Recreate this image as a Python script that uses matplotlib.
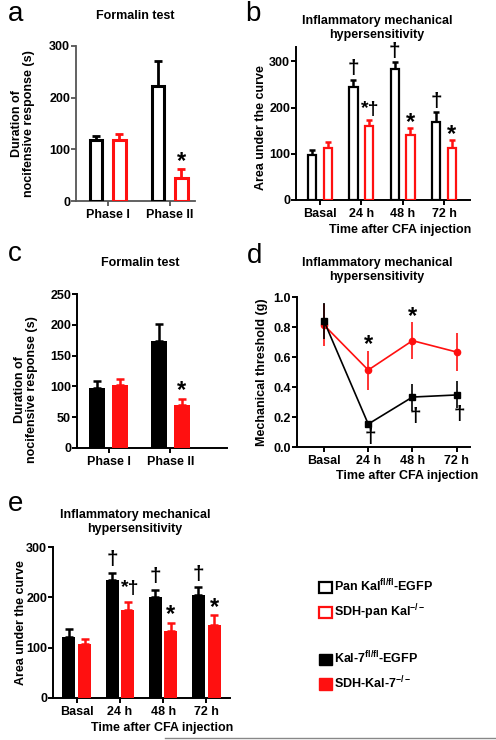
import numpy as np
import matplotlib
matplotlib.use("Agg")
import matplotlib.pyplot as plt
from matplotlib.lines import Line2D
from matplotlib.patches import Patch

plt.rcParams['font.family'] = ['Liberation Sans', 'DejaVu Sans']
plt.rcParams['font.weight'] = 'bold'
plt.rcParams['mathtext.fontset'] = 'custom'
plt.rcParams['mathtext.rm'] = 'Liberation Sans:bold'
plt.rcParams['mathtext.it'] = 'Liberation Sans:bold'
plt.rcParams['mathtext.bf'] = 'Liberation Sans:bold'

# ---------------- data ----------------
phase_groups = ['Phase I', 'Phase II']
time_groups = ['Basal', '24 h', '48 h', '72 h']

# a: pan-Kalirin formalin test (hollow bars)
a_ctrl = [118, 223]
a_ctrl_err = [7, 48]
a_ko = [118, 45]
a_ko_err = [12, 16]

# b: pan-Kalirin CFA, area under the curve (hollow bars)
b_ctrl = [98, 245, 283, 170]
b_ctrl_err = [10, 15, 15, 20]
b_ko = [112, 160, 140, 112]
b_ko_err = [14, 13, 15, 17]

# c: Kal-7 formalin test (filled bars)
c_ctrl = [98, 173]
c_ctrl_err = [10, 28]
c_ko = [103, 69]
c_ko_err = [9, 10]

# d: Kal-7 mechanical threshold time course
d_ctrl = [0.84, 0.153, 0.333, 0.347]
d_ctrl_err = [0.12, 0.02, 0.09, 0.09]
d_ko = [0.813, 0.513, 0.709, 0.633]
d_ko_err = [0.14, 0.13, 0.125, 0.125]

# e: Kal-7 CFA, area under the curve (filled bars)
e_ctrl = [122, 234, 201, 205]
e_ctrl_err = [16, 14, 14, 15]
e_ko = [107, 174, 134, 146]
e_ko_err = [10, 17, 15, 18]

legend_hollow = ['Pan Kal$^{\\mathrm{fl/fl}}$-EGFP', 'SDH-pan Kal$^{-/-}$']
legend_filled = ['Kal-7$^{\\mathrm{fl/fl}}$-EGFP', 'SDH-Kal-7$^{-/-}$']

RED = '#ff1010'
FS = 9
DAG = 15
AST = 17
W, H = 496, 740
fig = plt.figure(figsize=(W / 100, H / 100), dpi=100)


def add_ax(l, r, t, b):
    return fig.add_axes([l / W, 1 - b / H, (r - l) / W, (b - t) / H])


def style(ax, lw=1.4, color='black'):
    for s in ['top', 'right']:
        ax.spines[s].set_visible(False)
    for s in ['left', 'bottom']:
        ax.spines[s].set_linewidth(lw)
        ax.spines[s].set_color(color)
    ax.tick_params(axis='both', width=lw, length=3.5, labelsize=FS, color=color)
    ax.tick_params(axis='y', pad=0.8)
    ax.tick_params(axis='x', pad=2)
    for lab in ax.get_xticklabels() + ax.get_yticklabels():
        lab.set_fontweight('bold')


def ftext(x, y, s, **kw):
    fig.text(x / W, 1 - y / H, s, **kw)


def bar_panel(ax, groups, ctrl, ctrl_err, ko, ko_err, hollow, width, offset,
              lw, capsize, elw):
    x = np.arange(len(groups))
    if hollow:
        ax.bar(x - offset, ctrl, width, facecolor='white', edgecolor='black',
               linewidth=lw, zorder=3)
        ax.bar(x + offset, ko, width, facecolor='white', edgecolor=RED,
               linewidth=lw, zorder=3)
    else:
        ax.bar(x - offset, ctrl, width, color='black', zorder=3)
        ax.bar(x + offset, ko, width, color=RED, zorder=3)
    z = np.zeros(len(groups))
    ax.errorbar(x - offset, ctrl, yerr=[z, ctrl_err], fmt='none', ecolor='black',
                elinewidth=elw, capsize=capsize, capthick=elw, zorder=2)
    ax.errorbar(x + offset, ko, yerr=[z, ko_err], fmt='none', ecolor=RED,
                elinewidth=elw, capsize=capsize, capthick=elw, zorder=2)
    ax.set_xticks(x)
    ax.set_xticklabels(groups)
    return x


def mark(ax, x, y, s, dy, size=DAG, dx=0):
    ax.annotate(s, (x, y), xytext=(dx, dy), textcoords='offset points',
                ha='center', va='center', fontsize=size, fontweight='bold')


# ---------------- panel a ----------------
ax = add_ax(76, 195, 46, 201)
x = bar_panel(ax, phase_groups, a_ctrl, a_ctrl_err, a_ko, a_ko_err, True,
              0.2, 0.19, 2.2, 2.8, 2.0)
ax.set_xlim(-0.51, 1.41)
ax.set_ylim(0, 300)
ax.set_yticks([0, 100, 200, 300])
style(ax, 1.3, '#555555')
mark(ax, x[1] + 0.19, a_ko[1] + a_ko_err[1], '*', 6, AST)
ftext(135, 16, 'Formalin test', ha='center', va='center', fontsize=FS)
ftext(23, 124, 'Duration of\nnocifensive response (s)', ha='center', va='center',
      rotation=90, fontsize=FS, linespacing=1.1)
ftext(8, 14, 'a', ha='left', va='center', fontsize=20, fontweight='normal')

# ---------------- panel b ----------------
ax = add_ax(296, 470, 46.7, 200)
x = bar_panel(ax, time_groups, b_ctrl, b_ctrl_err, b_ko, b_ko_err, True,
              0.2, 0.19, 1.6, 2.4, 1.8)
ax.set_xlim(-0.58, 3.63)
ax.set_ylim(0, 332)
ax.set_yticks([0, 100, 200, 300])
style(ax)
for i in [1, 2, 3]:
    mark(ax, x[i] - 0.19, b_ctrl[i] + b_ctrl_err[i], '\u2020', 8)
mark(ax, x[1] + 0.19, b_ko[1] + b_ko_err[1], '*\u2020', 8, 14, dx=1)
for i in [2, 3]:
    mark(ax, x[i] + 0.19, b_ko[i] + b_ko_err[i], '*', 4, AST)
ftext(377, 28, 'Inflammatory mechanical\nhypersensitivity', ha='center',
      va='center', fontsize=FS, linespacing=1.15)
ax.set_xlabel('Time after CFA injection', fontsize=FS, fontweight='bold')
ax.xaxis.set_label_coords((400 - 296) / (470 - 296), -0.155)
ftext(261, 128, 'Area under the curve', ha='center', va='center', rotation=90,
      fontsize=FS)
ftext(245, 14, 'b', ha='left', va='center', fontsize=20, fontweight='normal')

# ---------------- panel c ----------------
ax = add_ax(77, 227, 294, 448)
x = bar_panel(ax, phase_groups, c_ctrl, c_ctrl_err, c_ko, c_ko_err, False,
              0.26, 0.187, 0, 3.0, 1.8)
ax.set_xlim(-0.52, 1.92)
ax.set_ylim(0, 250)
ax.set_yticks([0, 50, 100, 150, 200, 250])
style(ax)
mark(ax, x[1] + 0.187, c_ko[1] + c_ko_err[1], '*', 6, AST)
ftext(140, 263, 'Formalin test', ha='center', va='center', fontsize=FS)
ftext(26, 390, 'Duration of\nnocifensive response (s)', ha='center',
      va='center', rotation=90, fontsize=FS, linespacing=1.1)
ftext(8, 254, 'c', ha='left', va='center', fontsize=20, fontweight='normal')

# ---------------- panel d ----------------
ax = add_ax(297, 470, 297, 447)
xd = np.arange(len(time_groups))
ax.errorbar(xd, d_ko, yerr=d_ko_err, color=RED, marker='o', markersize=4.5,
            linewidth=1.2, elinewidth=1.2, capsize=0, zorder=3)
ax.errorbar(xd, d_ctrl, yerr=d_ctrl_err, color='black', marker='s',
            markersize=4.5, linewidth=1.2, elinewidth=1.2, capsize=0, zorder=4)
ax.set_xticks(xd)
ax.set_xticklabels(time_groups)
ax.set_xlim(-0.61, 3.3)
ax.set_ylim(0, 1.0)
ax.set_yticks(np.arange(0, 1.01, 0.2))
ax.yaxis.set_major_formatter(matplotlib.ticker.FormatStrFormatter('%.1f'))
style(ax)
for i in [1, 2]:
    mark(ax, xd[i], d_ko[i] + d_ko_err[i], '*', 4, AST)
mark(ax, xd[1], d_ctrl[1], '\u2020', -10, DAG, dx=1.5)
for i in [2, 3]:
    mark(ax, xd[i], d_ctrl[i], '\u2020', -14, DAG, dx=2)
ftext(377, 270, 'Inflammatory mechanical\nhypersensitivity', ha='center',
      va='center', fontsize=FS, linespacing=1.15)
ax.set_xlabel('Time after CFA injection', fontsize=FS, fontweight='bold')
ax.xaxis.set_label_coords((407 - 297) / (470 - 297), -0.15)
ftext(262, 372, 'Mechanical threshold (g)', ha='center', va='center',
      rotation=90, fontsize=FS)
ftext(247, 256, 'd', ha='left', va='center', fontsize=20, fontweight='normal')

# ---------------- panel e ----------------
ax = add_ax(53, 230, 547, 698)
x = bar_panel(ax, time_groups, e_ctrl, e_ctrl_err, e_ko, e_ko_err, False,
              0.30, 0.18, 0, 2.6, 1.8)
ax.set_xlim(-0.55, 3.55)
ax.set_ylim(0, 300)
ax.set_yticks([0, 100, 200, 300])
style(ax)
for i in [1, 2, 3]:
    mark(ax, x[i] - 0.18, e_ctrl[i] + e_ctrl_err[i], '\u2020', 9.5)
mark(ax, x[1] + 0.18, e_ko[1] + e_ko_err[1], '*\u2020', 9.5, 14, dx=1.5)
for i in [2, 3]:
    mark(ax, x[i] + 0.18, e_ko[i] + e_ko_err[i], '*', 6, AST)
ftext(135, 522, 'Inflammatory mechanical\nhypersensitivity', ha='center',
      va='center', fontsize=FS, linespacing=1.15)
ax.set_xlabel('Time after CFA injection', fontsize=FS, fontweight='bold')
ax.xaxis.set_label_coords((162 - 53) / (230 - 53), -0.16)
ftext(21, 623, 'Area under the curve', ha='center', va='center', rotation=90,
      fontsize=FS)
ftext(8, 504, 'e', ha='left', va='center', fontsize=20, fontweight='normal')

# ---------------- legends ----------------
h1 = [Patch(facecolor='white', edgecolor='black', linewidth=1.6),
      Patch(facecolor='white', edgecolor=RED, linewidth=1.6)]
h2 = [Patch(facecolor='black', edgecolor='black'),
      Patch(facecolor=RED, edgecolor=RED)]
leg1 = fig.legend(h1, legend_hollow, loc='upper left',
                  bbox_to_anchor=(319 / W, 1 - 578 / H), frameon=False,
                  fontsize=FS, handlelength=1.0, handleheight=1.0,
                  handletextpad=0.2, labelspacing=0.65, borderpad=0,
                  borderaxespad=0)
leg2 = fig.legend(h2, legend_filled, loc='upper left',
                  bbox_to_anchor=(319 / W, 1 - 650 / H), frameon=False,
                  fontsize=FS, handlelength=1.0, handleheight=1.0,
                  handletextpad=0.2, labelspacing=0.65, borderpad=0,
                  borderaxespad=0)
for lg in (leg1, leg2):
    for t in lg.get_texts():
        t.set_fontweight('bold')

fig.add_artist(Line2D([165 / W, 1.0], [1 - 738 / H, 1 - 738 / H],
                      color='#888888', linewidth=1.0))

fig.savefig('out.png', dpi=100)
